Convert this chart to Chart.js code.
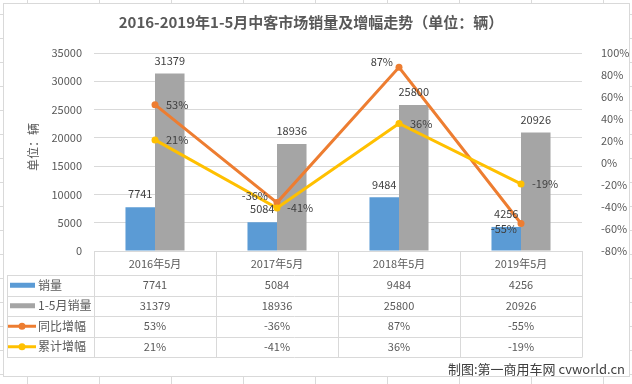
<!DOCTYPE html>
<html><head><meta charset="utf-8">
<script src="https://cdn.jsdelivr.net/npm/chart.js@4/dist/chart.umd.min.js"></script>
<style>
html,body{margin:0;padding:0;width:632px;height:384px;overflow:hidden;background:#fff;}
#bg{position:absolute;left:0;top:0;width:632px;height:384px;
background-image:linear-gradient(to right,#dadada 1px,transparent 1px),linear-gradient(to bottom,#dadada 1px,transparent 1px);
background-size:72px 24px;background-position:27px 14px;}
#box{position:absolute;left:3px;top:3px;width:625px;height:372px;border:1px solid #d9d9d9;background:#fff;}
canvas{position:absolute;left:0;top:0;}
</style></head>
<body>
<div id="bg"></div><div id="box"></div>
<canvas id="c" width="632" height="384"></canvas>
<script>
const chartTitle = '2016-2019年1-5月中客市场销量及增幅走势（单位：辆）';
const yAxisTitle = '单位：辆';
const credit = '制图:第一商用车网 cvworld.cn';
const categories = ['2016年5月','2017年5月','2018年5月','2019年5月'];
const seriesNames = ['销量','1-5月销量','同比增幅','累计增幅'];
const monthlySales = [7741,5084,9484,4256];
const ytdSales = [31379,18936,25800,20926];
const yoyGrowth = [53,-36,87,-55];
const ytdGrowth = [21,-41,36,-19];

const colors = ['#5B9BD5','#A5A5A5','#ED7D31','#FFC000'];
const FONT = '"Noto Sans CJK SC","Noto Sans",sans-serif';
const lineLabelPos = [
  [{dx:11,dy:0,al:'left'},{dx:-9,dy:-7,al:'right'},{dx:-6,dy:-5,al:'right'},{dx:-4,dy:5,al:'right'}],
  [{dx:11,dy:0,al:'left'},{dx:10,dy:0,al:'left'},{dx:11,dy:0,al:'left'},{dx:11,dy:0,al:'left'}]
];

const drawPlugin = {
  id:'extras',
  afterDraw(chart){
    const ctx = chart.ctx, ca = chart.chartArea;
    ctx.save();
    ctx.fillStyle = '#595959';
    ctx.font = 'bold 15px ' + FONT;
    ctx.textAlign = 'center'; ctx.textBaseline = 'middle';
    ctx.fillText(chartTitle, 311, 22);
    ctx.save();
    ctx.translate(33, 147); ctx.rotate(-Math.PI/2);
    ctx.font = '12px ' + FONT; ctx.fillStyle = '#595959';
    ctx.fillText(yAxisTitle, 0, 0);
    ctx.restore();
    ctx.font = '11px ' + FONT; ctx.fillStyle = '#404040';
    [0,1].forEach(di => {
      const meta = chart.getDatasetMeta(di);
      meta.data.forEach((el,i) => {
        ctx.textAlign = 'center';
        ctx.fillText(String(chart.data.datasets[di].data[i]), el.x, el.y - 13);
      });
    });
    [2,3].forEach((di,k) => {
      const meta = chart.getDatasetMeta(di);
      meta.data.forEach((el,i) => {
        const p = lineLabelPos[k][i];
        ctx.textAlign = p.al;
        ctx.fillText(chart.data.datasets[di].data[i] + '%', el.x + p.dx, el.y + p.dy);
      });
    });
    const xs = chart.scales.x;
    const cw = (ca.right - ca.left) / categories.length;
    const rows = [ca.bottom, 275, 295.5, 316, 336.5, 357];
    const tl = 7;
    ctx.strokeStyle = '#d9d9d9'; ctx.lineWidth = 1;
    ctx.beginPath();
    for (let r = 1; r < rows.length; r++) {
      const y = Math.round(rows[r]) + 0.5;
      ctx.moveTo(tl, y); ctx.lineTo(ca.right, y);
    }
    ctx.moveTo(tl + 0.5, Math.round(rows[1]) + 0.5); ctx.lineTo(tl + 0.5, Math.round(rows[5]) + 0.5);
    for (let c = 0; c <= categories.length; c++) {
      const x = Math.round(ca.left + c * cw) + 0.5;
      ctx.moveTo(x, rows[0]); ctx.lineTo(x, Math.round(rows[5]) + 0.5);
    }
    ctx.stroke();
    ctx.fillStyle = '#595959';
    ctx.font = '11px ' + FONT; ctx.textAlign = 'center';
    categories.forEach((c,i) => {
      ctx.fillText(c, xs.getPixelForValue(i), (rows[0] + rows[1]) / 2 + 1);
    });
    const tableData = [monthlySales, ytdSales, yoyGrowth, ytdGrowth];
    tableData.forEach((arr, r) => {
      const yc = (rows[r+1] + rows[r+2]) / 2;
      arr.forEach((v,i) => {
        ctx.fillStyle = '#595959'; ctx.textAlign = 'center'; ctx.font = '11px ' + FONT;
        ctx.fillText(r < 2 ? String(v) : v + '%', xs.getPixelForValue(i), yc);
      });
      if (r < 2) {
        ctx.fillStyle = colors[r];
        ctx.fillRect(10, yc - 2.5, 25, 5);
      } else {
        ctx.strokeStyle = colors[r]; ctx.lineWidth = 3;
        ctx.beginPath(); ctx.moveTo(8, yc); ctx.lineTo(36, yc); ctx.stroke();
        ctx.fillStyle = colors[r];
        ctx.beginPath(); ctx.arc(22, yc, 3.5, 0, Math.PI*2); ctx.fill();
      }
      ctx.fillStyle = '#595959'; ctx.textAlign = 'left'; ctx.font = '12px ' + FONT;
      ctx.fillText(seriesNames[r], 38, yc);
    });
    ctx.fillStyle = '#404040'; ctx.font = '13px ' + FONT; ctx.textAlign = 'right';
    ctx.fillText(credit, 625, 369);
    ctx.restore();
  }
};

new Chart(document.getElementById('c'), {
  type: 'bar',
  data: {
    labels: categories,
    datasets: [
      {label: seriesNames[0], data: monthlySales, backgroundColor: colors[0], yAxisID:'y', order:2, categoryPercentage:0.484, barPercentage:1},
      {label: seriesNames[1], data: ytdSales, backgroundColor: colors[1], yAxisID:'y', order:2, categoryPercentage:0.484, barPercentage:1},
      {type:'line', label: seriesNames[2], data: yoyGrowth, borderColor: colors[2], backgroundColor: colors[2], borderWidth:3, pointRadius:3.5, pointBorderWidth:0, pointBackgroundColor: colors[2], yAxisID:'y1', order:1, tension:0},
      {type:'line', label: seriesNames[3], data: ytdGrowth, borderColor: colors[3], backgroundColor: colors[3], borderWidth:3, pointRadius:3.5, pointBorderWidth:0, pointBackgroundColor: colors[3], yAxisID:'y1', order:0, tension:0}
    ]
  },
  options: {
    responsive:false, animation:false, devicePixelRatio:1,
    layout:{padding:{top:53, left:0, right:0, bottom:0}},
    plugins:{legend:{display:false}, tooltip:{enabled:false}, title:{display:false}},
    scales:{
      x:{grid:{display:false}, border:{display:false}, ticks:{display:false}, afterFit:s=>{s.height = 133;}},
      y:{position:'left', min:0, max:35000,
         ticks:{stepSize:5000, padding:12, color:'#595959', font:{size:11, family:FONT}, callback:v=>String(v)},
         grid:{color:'#d9d9d9', drawTicks:false}, border:{display:false},
         afterFit:s=>{s.width = 94;}},
      y1:{position:'right', min:-80, max:100,
         ticks:{stepSize:20, padding:11, color:'#595959', font:{size:11, family:FONT}, callback:v=>v+'%'},
         grid:{display:false}, border:{display:false},
         afterFit:s=>{s.width = 50;}}
    }
  },
  plugins:[drawPlugin]
});
</script>
</body></html>
